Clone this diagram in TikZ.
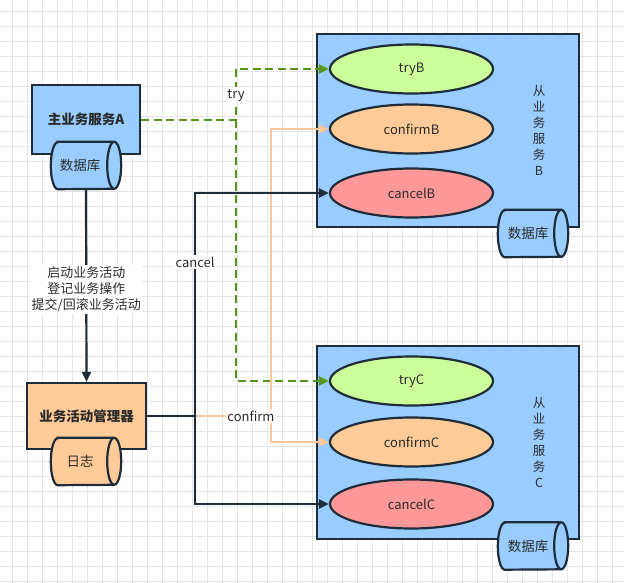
\documentclass[tikz,border=0pt]{standalone}
\usepackage{fontspec}
\setmainfont{Noto Sans CJK SC}
\usetikzlibrary{shapes.geometric,arrows.meta}
\definecolor{strokec}{HTML}{1E2B38}
\definecolor{blueF}{HTML}{99CCFF}
\definecolor{greenF}{HTML}{CCFF99}
\definecolor{orangeF}{HTML}{FFCC99}
\definecolor{redF}{HTML}{FF9999}
\definecolor{greenL}{HTML}{55951A}
\definecolor{orangeL}{HTML}{FFC898}
\definecolor{gridc}{HTML}{E4E4E4}
\definecolor{txt}{HTML}{2A2A2A}
\tikzset{
  box/.style={draw=strokec, line width=2.2pt, rectangle, inner sep=0pt},
  oval/.style={draw=strokec, line width=2.2pt, ellipse, inner sep=0pt, minimum width=163pt, minimum height=49pt, text=txt, font=\fontsize{13}{15}\selectfont},
  cylbox/.style={rectangle, inner sep=0pt, minimum width=70pt, minimum height=47pt},
  cyltext/.style={text=txt, inner sep=0pt, font=\fontsize{13.5}{15}\selectfont},
  lab/.style={fill=white, inner sep=1.5pt, text=txt, font=\fontsize{13}{15}\selectfont},
  vtext/.style={align=center, text=txt, font=\fontsize{12.5}{16}\selectfont},
  blk/.style={draw=strokec, line width=2.2pt, -{Triangle[length=10pt,width=9pt]}},
  grn/.style={draw=greenL, line width=2.2pt, dash pattern=on 8pt off 4.5pt, -{Triangle[length=10pt,width=9pt,fill=greenL]}},
  org/.style={draw=orangeL, line width=2.2pt, -{Triangle[length=10pt,width=9pt,fill=orangeL]}},
}
\newcommand{\hcyl}[2]{%
  \path[draw=strokec, line width=2.2pt, fill=#2] ([xshift=7pt]#1.north west) -- ([xshift=-7pt]#1.north east)
    arc[start angle=90, end angle=-90, x radius=7pt, y radius=23.5pt] -- ([xshift=7pt]#1.south west)
    arc[start angle=270, end angle=90, x radius=7pt, y radius=23.5pt] -- cycle;
  \draw[strokec, line width=2.2pt] ([xshift=-7pt]#1.north east) arc[start angle=90, end angle=270, x radius=7pt, y radius=23.5pt];}
\begin{document}
\begin{tikzpicture}[x=1pt,y=-1pt]
\useasboundingbox (0,0) rectangle (624,583);
\fill[white] (0,0) rectangle (624,583);
\foreach \gx in {12.7,27.7,...,624} \draw[gridc, line width=0.8pt] (\gx,0) -- (\gx,583);
\foreach \gy in {11.7,26.7,...,583} \draw[gridc, line width=0.8pt] (0,\gy) -- (624,\gy);

% service boxes
\node[box, fill=blueF, minimum width=262pt, minimum height=193pt] (B) at (448,130.5) {};
\node[box, fill=blueF, minimum width=262pt, minimum height=193pt] (C) at (448,442.5) {};
\node[vtext] (Bt) at (539,130.5) {从\\业\\务\\服\\务\\B};
\node[vtext] (Ct) at (539,442.5) {从\\业\\务\\服\\务\\C};

\node[oval, fill=greenF] (tryB) at (411.5,69) {tryB};
\node[oval, fill=orangeF] (confirmB) at (411.5,129) {confirmB};
\node[oval, fill=redF] (cancelB) at (411.5,193) {cancelB};
\node[oval, fill=greenF] (tryC) at (411.5,381) {tryC};
\node[oval, fill=orangeF] (confirmC) at (411.5,442) {confirmC};
\node[oval, fill=redF] (cancelC) at (411.5,504) {cancelC};

\node[cylbox] (dbB) at (533,233.5) {};
\hcyl{dbB}{blueF}
\node[cyltext] (dbBt) at ([xshift=-5pt]dbB.center) {数据库};
\node[cylbox] (dbC) at (533,546) {};
\hcyl{dbC}{blueF}
\node[cyltext] (dbCt) at ([xshift=-5pt]dbC.center) {数据库};

% left
\node[box, fill=blueF, minimum width=108pt, minimum height=69pt, text=txt, font=\bfseries\fontsize{13.5}{15}\selectfont] (A) at (86,119.5) {\raisebox{2pt}{主业务服务A}};
\node[cylbox] (dbA) at (86,165.5) {};
\hcyl{dbA}{blueF}
\node[cyltext] (dbAt) at ([xshift=-6pt]dbA.center) {数据库};
\node[box, fill=orangeF, minimum width=119pt, minimum height=66pt, text=txt, font=\bfseries\fontsize{13.5}{15}\selectfont] (M) at (86.5,416) {业务活动管理器};
\node[cylbox] (dbM) at (86,461.5) {};
\hcyl{dbM}{orangeF}
\node[cyltext] (dbMt) at ([xshift=-6pt]dbM.center) {日志};

% A -> manager
\draw[blk] (dbA.south) -- (M.north) node[pos=0.52, lab, align=center, font=\fontsize{13}{16}\selectfont] (ops) {启动业务活动\\登记业务操作\\提交/回滚业务活动};

% try
\coordinate (tj) at (236,120);
\draw[grn] (A.east |- tj) -- (tj) |- (tryB.west);
\draw[grn] (tj) |- (tryC.west);
\node[lab] (tryl) at (236,95) {try};

% confirm
\coordinate (cj) at (195,416);
\coordinate (fj) at (271,416);
\draw[org] (cj) -- (fj) |- (confirmB.west);
\draw[org] (fj) |- (confirmC.west);
\node[lab] (confl) at (251,416) {confirm};

% cancel
\draw[blk] (M.east) -- (cj) |- (cancelB.west);
\draw[blk] (cj) |- (cancelC.west);
\node[lab] (cancl) at (195,262) {cancel};
\end{tikzpicture}
\end{document}
